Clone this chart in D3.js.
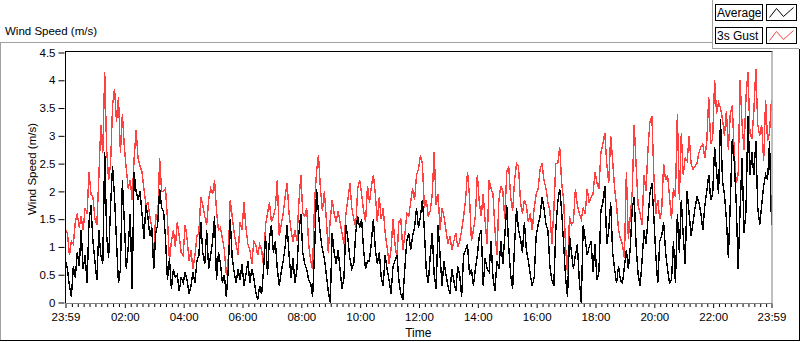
<!DOCTYPE html>
<meta charset="utf-8">
<style>
body { margin: 0; background: #fff; }
svg text { font-family: "Liberation Sans", Arial, sans-serif; fill: #000; }
.tick line { stroke: #000; }
</style>
<body>
<svg id="chart" width="800" height="342"></svg>
<script src="https://cdn.jsdelivr.net/npm/d3@7"></script>
<script>

// one sample every 4 minutes, from 23:59 to 23:59 next day
var average = [
  0.75,0.6,0.3,0.1,0.65,0.45,0.9,0.65,1.3,0.6,0.85,0.35,1.45,1.75,1.1,0.75,0.4,1.3,0.85,0.7,2.7,1.2,0.8,1.75,2.45,1.9,1.1,0.35,0.6,2.2,1.45,0.6,1.0,1.6,0.25,2.35,2.0,1.85,2.0,1.6,1.15,1.75,1.55,1.2,1.35,0.6,1.25,1.4,2.05,1.7,1.65,
  1.15,0.4,0.8,0.25,0.6,0.45,0.5,0.2,0.45,0.35,0.55,0.4,0.15,0.3,0.55,0.35,0.75,0.85,1.45,0.9,0.7,1.3,0.6,0.85,1.1,1.55,0.4,0.9,0.7,0.35,0.5,0.1,0.6,1.5,0.8,0.55,0.35,0.6,0.4,0.7,0.3,0.5,0.75,0.35,0.6,0.45,0.2,0.05,0.3,0.15,0.6,1.2,
  0.5,1.15,1.4,0.9,1.1,0.6,0.3,0.55,0.75,1.0,1.4,0.85,0.45,0.8,0.35,0.6,1.25,1.6,0.9,0.7,0.6,0.4,0.35,0.1,0.9,2.05,1.6,1.2,0.95,0.8,0.5,0.2,0.0,1.25,0.9,0.7,0.95,0.6,0.25,0.45,1.4,1.15,0.8,0.6,0.7,1.25,1.55,1.35,1.5,0.95,0.6,0.75,
  0.75,1.1,1.5,0.95,0.7,0.9,0.45,0.3,0.85,0.6,0.4,0.15,0.65,0.75,0.85,0.4,0.15,0.05,0.6,1.1,1.25,0.95,1.2,1.35,1.7,1.35,1.55,1.85,1.3,0.55,0.35,0.85,1.25,0.5,0.25,1.4,0.85,0.3,0.75,0.5,0.3,0.15,0.6,0.4,0.2,0.65,0.5,0.1,0.85,0.95,1.05,0.5,
  0.6,0.3,0.6,0.85,1.2,1.3,0.3,0.8,0.6,0.55,1.1,0.45,0.2,0.75,0.6,1.1,0.7,1.2,1.75,1.0,0.5,0.25,1.05,1.7,1.3,1.15,0.9,1.45,0.95,0.75,0.5,0.3,0.45,1.2,1.4,1.55,1.9,1.7,1.4,1.3,0.65,0.4,0.3,1.3,1.8,2.05,1.65,1.05,0.45,0.1,1.2,0.9,
  0.6,0.85,1.05,0.4,0.0,1.4,1.15,0.85,1.0,1.1,0.55,1.05,0.4,0.55,1.65,1.8,2.1,1.05,1.3,1.8,0.9,0.6,0.35,0.65,0.4,0.35,0.65,0.95,0.6,1.0,1.7,1.9,1.0,0.5,0.3,0.75,1.3,1.05,1.5,1.95,2.15,1.55,0.85,0.35,1.1,1.2,1.45,0.9,0.6,0.35,0.4,1.1,
  0.35,1.6,0.9,1.85,1.2,0.7,2.0,1.6,1.2,1.45,1.7,1.9,1.8,1.6,1.3,1.75,2.0,2.3,1.85,1.95,2.8,2.35,1.95,3.3,2.2,1.95,1.5,0.8,1.8,2.95,2.55,1.8,0.6,1.7,2.6,1.25,1.65,3.35,2.3,2.7,2.3,2.9,1.7,1.4,1.75,2.1,2.3,2.2,2.9,1.4
];

var gust = [
  1.3,1.25,0.85,1.1,1.05,1.45,1.6,1.35,1.55,1.3,1.7,1.6,2.35,1.95,1.9,1.5,1.4,2.25,3.2,2.7,4.15,2.75,2.2,2.5,3.55,3.85,3.25,3.7,2.7,3.4,2.8,2.4,2.05,2.2,1.85,2.6,3.1,2.6,2.45,2.35,2.05,1.75,1.8,1.55,1.35,0.8,1.6,1.45,2.6,2.0,2.0,
  2.05,1.5,0.75,1.1,1.3,1.0,1.45,1.2,0.9,0.85,1.4,1.15,0.75,0.95,0.6,0.85,1.2,1.25,1.9,1.75,1.55,1.4,1.85,2.05,1.95,2.2,1.65,1.3,1.35,1.15,0.95,0.5,0.8,1.85,1.55,1.25,1.05,0.85,1.45,1.3,1.8,1.35,1.05,0.95,0.7,1.1,1.05,0.85,1.05,0.95,0.65,1.4,
  1.6,1.8,1.45,1.55,1.7,2.2,1.2,1.4,1.6,1.9,2.15,1.6,1.3,1.1,1.3,1.1,1.8,2.3,1.6,1.55,1.7,1.05,0.75,0.6,1.8,2.35,2.65,2.05,1.65,2.0,1.5,0.9,1.5,1.85,1.6,1.45,1.65,1.45,1.25,1.05,1.6,1.85,2.15,1.7,1.5,1.35,2.05,2.2,1.95,1.65,1.45,2.1,
  1.8,2.1,2.3,1.95,1.45,1.9,1.5,1.7,1.25,1.0,0.7,0.95,1.5,1.05,0.8,1.45,1.5,0.95,1.2,1.6,1.55,1.8,2.05,1.85,2.3,2.4,2.65,2.5,1.7,1.85,1.55,1.65,1.95,2.7,1.75,1.95,1.3,1.7,1.55,1.3,1.05,1.2,0.95,1.1,1.25,1.0,1.1,1.3,1.55,1.85,2.35,1.9,
  1.1,1.3,1.55,2.3,1.8,1.55,1.95,1.45,1.05,2.2,2.05,1.95,1.3,0.85,1.85,2.1,2.0,1.5,2.35,2.45,1.9,1.65,2.2,2.5,2.45,1.8,1.6,1.85,1.75,1.45,1.6,1.3,1.7,1.95,2.05,2.4,2.5,2.2,2.05,1.8,1.65,1.05,1.65,2.5,2.5,2.8,2.15,1.85,1.0,0.5,1.55,1.4,
  1.45,2.05,1.75,1.6,1.5,1.7,1.6,2.05,1.8,1.9,1.95,2.35,2.15,2.05,2.7,2.85,3.05,2.5,2.15,3.0,2.55,2.05,1.75,1.3,1.15,1.05,0.8,2.35,1.15,1.55,2.0,3.2,2.45,1.75,1.6,1.4,2.3,2.0,2.75,3.25,3.35,2.3,1.6,1.85,1.5,1.65,2.5,2.2,2.3,1.9,1.5,2.05,
  1.9,3.4,1.85,3.05,2.3,2.6,2.55,3.0,2.5,2.4,2.45,2.5,2.7,2.8,2.85,2.6,2.9,3.7,2.85,2.95,4.0,3.4,3.6,3.5,3.3,3.0,3.45,2.75,3.4,3.55,2.7,2.15,2.3,4.0,3.2,2.75,3.7,4.15,3.05,2.95,3.45,4.2,3.2,3.0,3.2,2.55,3.65,2.9,3.05,3.65
];

var seriesNames = ["Average", "3s Gust"];
var seriesColors = ["#000000", "#ff4040"];
var yTickValues = [0, 0.5, 1, 1.5, 2, 2.5, 3, 3.5, 4, 4.5];
var xTickLabels = ["23:59", "02:00", "04:00", "06:00", "08:00", "10:00", "12:00",
                   "14:00", "16:00", "18:00", "20:00", "22:00", "23:59"];

var svg = d3.select("#chart");
var plotLeft = 65, plotRight = 771.5, plotTop = 51, plotBottom = 303;

var start = new Date(2021, 0, 1, 23, 59);
var end = d3.timeDay.offset(start, 1);

var x = d3.scaleTime().domain([start, end]).range([plotLeft + 0.5, plotRight]);
var y = d3.scaleLinear().domain([0, 4.5]).range([302.5, 52.5]);

function timeAt(i, n) {
  return new Date(+start + i * (end - start) / (n - 1));
}

// outer frame (raised look)
svg.append("line").attr("x1", 0).attr("x2", 712).attr("y1", 42.5).attr("y2", 42.5).attr("stroke", "#a0a0a0");
svg.append("line").attr("x1", 0.5).attr("x2", 0.5).attr("y1", 42).attr("y2", 341).attr("stroke", "#a0a0a0");
svg.append("line").attr("x1", 0).attr("x2", 800).attr("y1", 340.5).attr("y2", 340.5).attr("stroke", "#000");
svg.append("line").attr("x1", 799.5).attr("x2", 799.5).attr("y1", 49).attr("y2", 341).attr("stroke", "#000");

// legend panel
svg.append("line").attr("x1", 712.5).attr("x2", 712.5).attr("y1", 0).attr("y2", 49).attr("stroke", "#a0a0a0");
svg.append("line").attr("x1", 712).attr("x2", 799).attr("y1", 48.5).attr("y2", 48.5).attr("stroke", "#a0a0a0");

svg.append("text").attr("x", 5).attr("y", 35).style("font-size", "11.5px").text("Wind Speed (m/s)");

// plot background + border (dark top/left, grey bottom/right)
svg.append("rect").attr("x", plotLeft).attr("y", plotTop).attr("width", plotRight - plotLeft).attr("height", plotBottom - plotTop).attr("fill", "#fff");
svg.append("line").attr("x1", plotLeft).attr("x2", plotRight + 1).attr("y1", plotTop + 0.5).attr("y2", plotTop + 0.5).attr("stroke", "#000");
svg.append("line").attr("x1", plotLeft + 0.5).attr("x2", plotLeft + 0.5).attr("y1", plotTop).attr("y2", plotBottom).attr("stroke", "#000");
svg.append("line").attr("x1", plotRight + 0.5).attr("x2", plotRight + 0.5).attr("y1", plotTop).attr("y2", plotBottom + 1).attr("stroke", "#808080");
svg.append("line").attr("x1", plotLeft).attr("x2", plotRight + 1).attr("y1", plotBottom + 0.5).attr("y2", plotBottom + 0.5).attr("stroke", "#808080");

svg.append("clipPath").attr("id", "clip")
  .append("rect").attr("x", plotLeft + 1).attr("y", plotTop + 1).attr("width", plotRight - plotLeft - 1).attr("height", plotBottom - plotTop - 1);

var line = d3.line()
  .x(function(d, i, arr) { return x(timeAt(i, arr.length)); })
  .y(function(d) { return y(d); });

var plots = svg.append("g").attr("clip-path", "url(#clip)");
[gust, average].forEach(function(series, k) {
  plots.append("path")
    .datum(series)
    .attr("d", line)
    .attr("fill", "none")
    .attr("stroke", seriesColors[1 - k])
    .attr("stroke-width", 1.4)
    .attr("shape-rendering", "crispEdges");
});

// y axis
var yAxis = svg.append("g")
  .attr("transform", "translate(" + (plotLeft - 0.5) + ",0)")
  .call(d3.axisLeft(y).tickValues(yTickValues).tickSize(6).tickPadding(3).tickFormat(d3.format("~g")));
yAxis.select(".domain").remove();
yAxis.selectAll("text").style("font-size", "11.5px");

svg.append("text")
  .attr("transform", "translate(36," + ((plotTop + plotBottom) / 2 - 8) + ") rotate(-90)")
  .attr("text-anchor", "middle")
  .style("font-size", "11.5px")
  .text("Wind Speed (m/s)");

// x axis: majors at the ends and every 2 h, minors every 12 min
var majors = [start].concat(d3.range(2, 24, 2).map(function(h) { return new Date(2021, 0, 2, h, 0); })).concat([end]);
var minors = d3.range(1, 120).map(function(k) { return new Date(2021, 0, 2, 0, k * 12); })
  .filter(function(d) { return d < end && (d.getHours() % 2 !== 0 || d.getMinutes() !== 0); });

var xMinor = svg.append("g")
  .attr("transform", "translate(0," + (plotBottom + 1) + ")")
  .call(d3.axisBottom(x).tickValues(minors).tickSize(3).tickFormat(""));
xMinor.select(".domain").remove();

var xAxis = svg.append("g")
  .attr("transform", "translate(0," + (plotBottom + 1) + ")")
  .call(d3.axisBottom(x).tickValues(majors).tickSize(4).tickPadding(5)
        .tickFormat(function(d, i) { return xTickLabels[i]; }));
xAxis.select(".domain").remove();
xAxis.selectAll("text").style("font-size", "11.5px");

svg.append("text").attr("x", (plotLeft + plotRight) / 2).attr("y", 337)
  .attr("text-anchor", "middle").style("font-size", "12px").text("Time");

// legend
seriesNames.forEach(function(name, k) {
  var ly = 4.5 + k * 23;
  svg.append("rect").attr("x", 715.5).attr("y", ly).attr("width", 47).attr("height", 16)
    .attr("fill", "#fff").attr("stroke", "#000");
  svg.append("text").attr("x", 717).attr("y", ly + 12.5).style("font-size", "12px").text(name);
  svg.append("rect").attr("x", 766.5).attr("y", ly).attr("width", 30).attr("height", 16)
    .attr("fill", "#fff").attr("stroke", "#000");
  var zig = [[3, 13], [10, 4], [17, 12], [27, 3]].map(function(p) { return [766.5 + p[0], ly + p[1]]; });
  svg.append("path").attr("d", d3.line()(zig)).attr("fill", "none")
    .attr("stroke", seriesColors[k]).attr("stroke-width", 1);
});
</script>
</body>
